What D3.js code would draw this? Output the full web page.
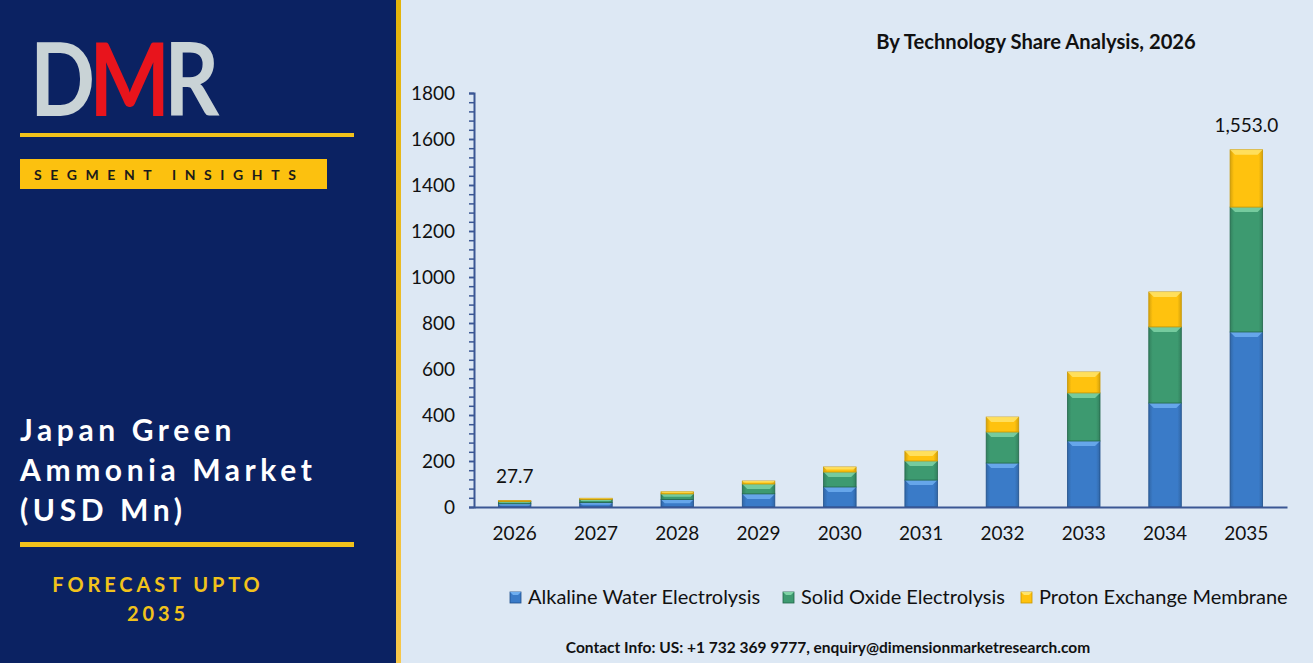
<!DOCTYPE html>
<html>
<head>
<meta charset="utf-8">
<script src="https://cdn.jsdelivr.net/npm/d3@7"></script>
<style>
  html, body { margin: 0; padding: 0; background: #fff; }
  svg { display: block; }
  text { font-family: Lato, "Open Sans", sans-serif; }
</style>
</head>
<body>
<svg id="chart"></svg>
<script>
// data
const years = ["2026", "2027", "2028", "2029", "2030", "2031", "2032", "2033", "2034", "2035"];
const seriesNames = ["Alkaline Water Electrolysis", "Solid Oxide Electrolysis", "Proton Exchange Membrane"];
const alkaline = [14.0, 19, 33, 57, 87, 117, 191, 287, 452, 761];
const solidOxide = [10.0, 14, 24, 43, 65, 83, 135, 209, 331, 543];
const protonExchange = [3.7, 5, 9, 13, 22, 43, 65, 91, 152, 249];
const yTicks = [0, 200, 400, 600, 800, 1000, 1200, 1400, 1600, 1800];
const totalLabels = { "2026": "27.7", "2035": "1,553.0" };

const W = 1313, H = 668;
const colors = ["#3a7bc8", "#3d9a70", "#ffc20e"];
const hiColors = ["#6eaef0", "#7fd3a6", "#ffe46a"];
const edgeColors = ["#1f4f8a", "#22664a", "#c99700"];

const svg = d3.select("#chart").attr("width", W).attr("height", H);
const defs = svg.append("defs");

// left dark panel
svg.append("rect").attr("x", 0).attr("y", 0).attr("width", 396).attr("height", 663).attr("fill", "#0b2262");
const stripe = defs.append("linearGradient").attr("id", "stripe").attr("x1", 0).attr("y1", 0).attr("x2", 0).attr("y2", 1);
stripe.append("stop").attr("offset", "0%").attr("stop-color", "#e3b40a");
stripe.append("stop").attr("offset", "100%").attr("stop-color", "#f7c74a");
svg.append("rect").attr("x", 396).attr("y", 0).attr("width", 5).attr("height", 663).attr("fill", "url(#stripe)");
svg.append("rect").attr("x", 401).attr("y", 0).attr("width", W - 401).attr("height", 663).attr("fill", "#dde8f4");

// logo
const logo = svg.append("g").attr("transform", "translate(30,116) scale(0.84,1)");
logo.append("text").attr("x", 0).attr("y", 0).attr("font-size", 102).attr("font-weight", 700)
  .attr("font-family", "Liberation Sans, Arial, sans-serif").attr("letter-spacing", -7)
  .selectAll("tspan").data([["D", "#c9d3d6"], ["M", "#e8141c"], ["R", "#c9d3d6"]]).join("tspan")
  .attr("fill", d => d[1]).text(d => d[0]);

svg.append("rect").attr("x", 20).attr("y", 133).attr("width", 334).attr("height", 4).attr("fill", "#f2c21b");
svg.append("rect").attr("x", 20).attr("y", 159).attr("width", 307).attr("height", 30).attr("fill", "#fcc10f");
svg.append("text").attr("x", 34).attr("y", 180).attr("font-size", 14).attr("font-weight", 700)
  .attr("letter-spacing", 8.6).attr("fill", "#1a1a1a").text("SEGMENT INSIGHTS");

const heading = ["Japan Green", "Ammonia Market", "(USD Mn)"];
svg.append("g").selectAll("text").data(heading).join("text")
  .attr("x", 20).attr("y", (d, i) => 441 + i * 40)
  .attr("font-size", 30).attr("font-weight", 700).attr("letter-spacing", 4.6)
  .attr("fill", "#ffffff").text(d => d);

svg.append("rect").attr("x", 20).attr("y", 542).attr("width", 334).attr("height", 5).attr("fill", "#f2c21b");
svg.append("g").selectAll("text").data(["FORECAST UPTO", "2035"]).join("text")
  .attr("x", 158).attr("y", (d, i) => 592 + i * 29).attr("text-anchor", "middle")
  .attr("font-size", 20).attr("font-weight", 700).attr("letter-spacing", 3.9)
  .attr("fill", "#f2c21b").text(d => d);

// chart
const x = d3.scaleBand().domain(years).range([474, 1287]).paddingInner(0.6).paddingOuter(0.3);
const y = d3.scaleLinear().domain([0, 1800]).range([507, 93]);

svg.append("text").attr("x", 1036).attr("y", 49).attr("text-anchor", "middle")
  .attr("font-size", 20.2).attr("font-weight", 700).attr("fill", "#111").text("By Technology Share Analysis, 2026");

const rows = years.map((yr, i) => ({ year: yr, a: alkaline[i], s: solidOxide[i], p: protonExchange[i] }));
const stacked = d3.stack().keys(["a", "s", "p"])(rows);

// horizontal shading for a slightly rounded bar look
colors.forEach((c, i) => {
  const g = defs.append("linearGradient").attr("id", "bar" + i).attr("x1", 0).attr("x2", 1).attr("y1", 0).attr("y2", 0);
  g.append("stop").attr("offset", "0%").attr("stop-color", d3.color(c).darker(0.5));
  g.append("stop").attr("offset", "12%").attr("stop-color", c);
  g.append("stop").attr("offset", "88%").attr("stop-color", c);
  g.append("stop").attr("offset", "100%").attr("stop-color", d3.color(c).darker(0.5));
});

const layers = svg.append("g").selectAll("g").data(stacked).join("g");
layers.each(function (layer, li) {
  const g = d3.select(this);
  layer.forEach(d => {
    const x0 = x(d.data.year), bw = x.bandwidth();
    const top = y(d[1]), bot = y(d[0]);
    const h = bot - top;
    g.append("rect").attr("x", x0).attr("y", top).attr("width", bw).attr("height", h)
      .attr("fill", `url(#bar${li})`).attr("stroke", edgeColors[li]).attr("stroke-width", 0.8);
    const bev = Math.min(5, h / 2);
    if (bev > 0.5) {
      g.append("path")
        .attr("d", `M${x0},${top}L${x0 + bw},${top}L${x0 + bw - bev},${top + bev}L${x0 + bev},${top + bev}Z`)
        .attr("fill", hiColors[li]).attr("opacity", 0.85);
    }
  });
});

// total labels
svg.append("g").selectAll("text").data(years.filter(yr => totalLabels[yr])).join("text")
  .attr("x", yr => x(yr) + x.bandwidth() / 2)
  .attr("y", yr => y(d3.sum(stacked, l => l[years.indexOf(yr)][1] - l[years.indexOf(yr)][0])) - 18)
  .attr("text-anchor", "middle").attr("font-size", 19).attr("fill", "#111")
  .text(yr => totalLabels[yr]);

const axisColor = "#3b5794";
const minor = svg.append("g").attr("transform", "translate(474,0)")
  .call(d3.axisLeft(y).tickValues(d3.range(0, 1801, 40)).tickSize(5).tickFormat(""));
minor.select(".domain").remove();
minor.selectAll("line").attr("stroke", axisColor).attr("stroke-width", 1.5);

const yAxis = svg.append("g").attr("transform", "translate(474,0)")
  .call(d3.axisLeft(y).tickValues(yTicks).tickFormat(d3.format("d")).tickSize(5).tickPadding(14).tickSizeOuter(5));
yAxis.select(".domain").attr("stroke", axisColor).attr("stroke-width", 2);
yAxis.selectAll("line").attr("stroke", axisColor).attr("stroke-width", 1.5);
yAxis.selectAll("text").attr("font-size", 19).attr("font-family", "Lato, sans-serif").attr("fill", "#111");

const xAxis = svg.append("g").attr("transform", "translate(0,507)")
  .call(d3.axisBottom(x).tickSize(0).tickPadding(20).tickSizeOuter(0));
xAxis.select(".domain").attr("stroke", axisColor).attr("stroke-width", 2);
xAxis.selectAll("text").attr("font-size", 19).attr("font-family", "Lato, sans-serif").attr("fill", "#111");

// legend
const legendX = [510, 783, 1021];
const legend = svg.append("g").selectAll("g").data(seriesNames).join("g")
  .attr("transform", (d, i) => `translate(${legendX[i]},592)`);
legend.append("rect").attr("width", 11).attr("height", 11)
  .attr("fill", (d, i) => colors[i]).attr("stroke", (d, i) => edgeColors[i]).attr("stroke-width", 0.8);
legend.append("path").attr("d", "M0,0L11,0L8,3L3,3Z").attr("fill", (d, i) => hiColors[i]);
legend.append("text").attr("x", 18).attr("y", 12).attr("font-size", 20).attr("fill", "#111").text(d => d);

svg.append("text").attr("x", 828).attr("y", 653).attr("text-anchor", "middle")
  .attr("font-size", 15.5).attr("font-weight", 700).attr("fill", "#111")
  .text("Contact Info: US: +1 732 369 9777, enquiry@dimensionmarketresearch.com");
</script>
</body>
</html>
